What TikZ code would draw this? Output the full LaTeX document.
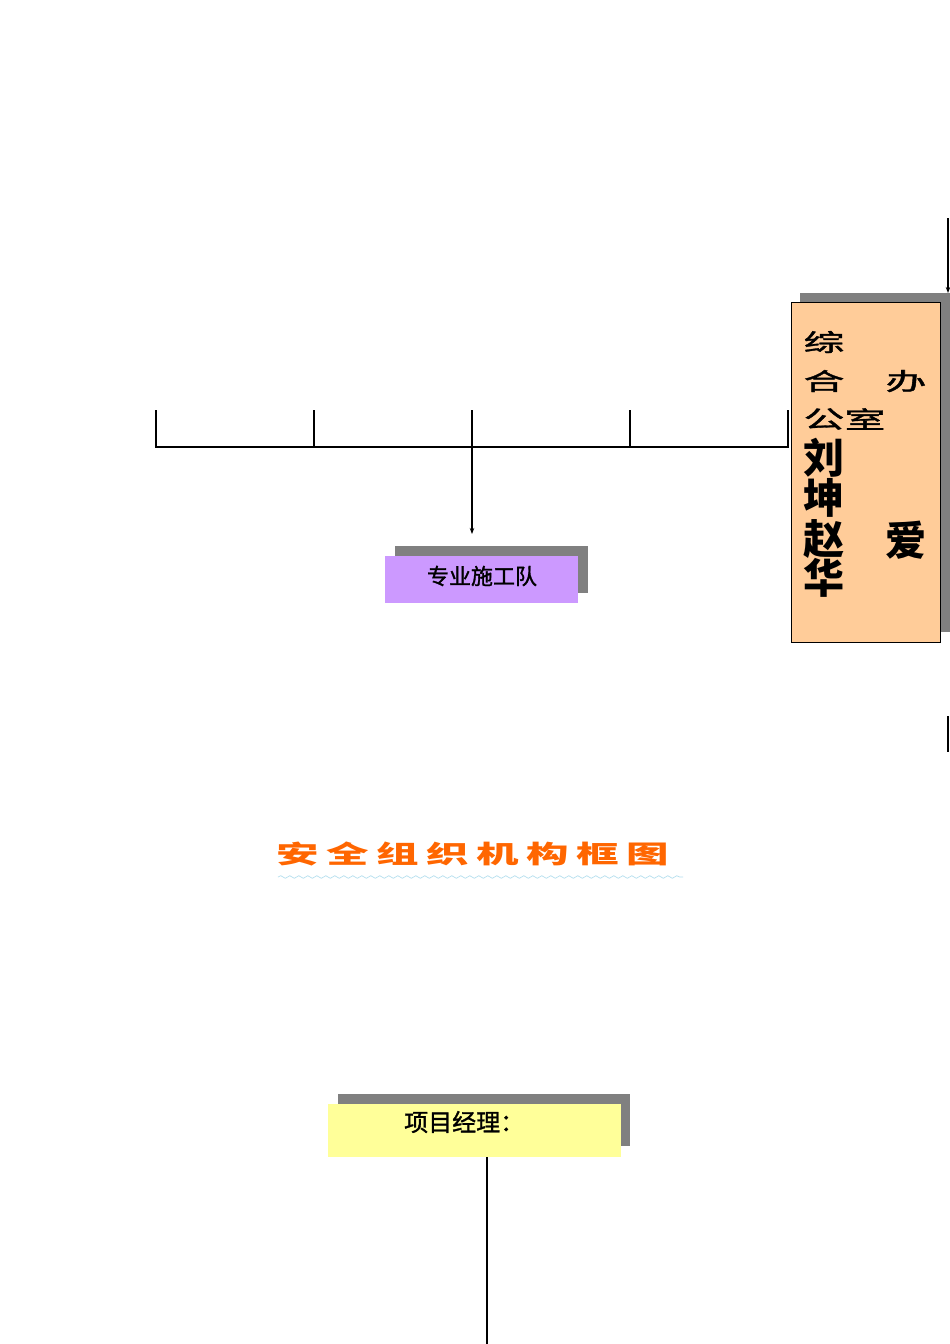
\documentclass[tikz,border=0pt]{standalone}
\usepackage{fontspec}
\setmainfont{Noto Sans CJK SC}
\newfontfamily\cjkmed[FakeBold=1.3]{Noto Sans CJK SC}
\usetikzlibrary{decorations.pathmorphing,arrows.meta}
\definecolor{shadowgray}{HTML}{808080}
\definecolor{orangefill}{HTML}{FFCC99}
\definecolor{purplefill}{HTML}{CC99FF}
\definecolor{yellowfill}{HTML}{FFFF99}
\definecolor{titleorange}{HTML}{FF6600}
\definecolor{wavyblue}{HTML}{B5DFEE}
\begin{document}
\begin{tikzpicture}[x=1pt,y=-1pt,
  rect/.style={draw=none,inner sep=0pt,outer sep=0pt,anchor=north west},
  shadowbox/.style={rect,fill=shadowgray},
  link/.style={line width=1.8pt,black},
  arrowlink/.style={link,-{Stealth[length=6pt,width=4.5pt]}},
  smallchar/.style={inner sep=0pt,font=\cjkmed\fontsize{24}{24}\selectfont,xscale=1.7},
  bigchar/.style={inner sep=0pt,font=\fontsize{41}{41}\selectfont\bfseries},
  titlechar/.style={inner sep=0pt,font=\fontsize{25}{25}\selectfont\bfseries,xscale=1.7,text=titleorange},
  label/.style={inner sep=0pt,font=\cjkmed\fontsize{22}{22}\selectfont}
]
\useasboundingbox (0,0) rectangle (950,1344);
\fill[white] (0,0) rectangle (950,1344);

% orange box (综合办公室)
\node[shadowbox,minimum width=150pt,minimum height=339pt] (oshadow) at (800,293) {};
\node[rect,fill=orangefill,draw=black,line width=0.8pt,minimum width=149pt,minimum height=340pt] (obox) at (791,302) {};
\node[smallchar] (c1) at (824,342) {综};
\node[smallchar] (c2) at (824,381) {合};
\node[smallchar] (c3) at (906,381) {办};
\node[smallchar] (c4) at (824,419) {公};
\node[smallchar] (c5) at (865,419) {室};
\node[bigchar] (n1) at (824,458) {刘};
\node[bigchar] (n2) at (824,498) {坤};
\node[bigchar] (n3) at (824,539) {赵};
\node[bigchar] (n4) at (824,578) {华};
\node[bigchar] (n5) at (906,540) {爱};

% top right incoming arrow
\coordinate (tr1) at (948,218);
\coordinate (tr2) at (948,293);
\draw[arrowlink] (tr1) -- (tr2);

% short line at right
\coordinate (sr1) at (948,716);
\coordinate (sr2) at (948,752);
\draw[link] (sr1) -- (sr2);

% bracket
\foreach \i/\x in {1/156,2/314,3/472,4/630,5/788}{
  \coordinate (t\i) at (\x,410);
  \coordinate (b\i) at (\x,447);
}
\draw[link] (t1) -- (b1) -- (b5) -- (t5);
\draw[link] (t2) -- (b2);
\draw[link] (t3) -- (b3);
\draw[link] (t4) -- (b4);
\coordinate (aend) at (472,534);
\draw[arrowlink,line width=1.4pt] (b3) -- (aend);

% purple box
\node[shadowbox,minimum width=193pt,minimum height=47pt] (pshadow) at (395,546) {};
\node[rect,fill=purplefill,minimum width=193pt,minimum height=47pt] (pbox) at (385,556) {};
\node[label] (ptext) at (482,576) {专业施工队};

% title
\foreach \i/\c in {0/安,1/全,2/组,3/织,4/机,5/构,6/框,7/图}{
  \node[titlechar] (tc\i) at (298+50*\i,854) {\c};
}
\coordinate (w1) at (278,877);
\coordinate (w2) at (683,877);
\draw[wavyblue,line width=0.7pt,decorate,decoration={snake,amplitude=1.3pt,segment length=9pt}] (w1) -- (w2);

% yellow box
\node[shadowbox,minimum width=292pt,minimum height=52pt] (yshadow) at (338,1094) {};
\node[rect,fill=yellowfill,minimum width=293pt,minimum height=53pt] (ybox) at (328,1104) {};
\node[label,anchor=west,font=\cjkmed\fontsize{24}{24}\selectfont] (ytext) at (404,1122) {项目经理：};
\coordinate (ytop) at (487,1157);
\coordinate (yend) at (487,1344);
\draw[link] (ytop) -- (yend);
\end{tikzpicture}
\end{document}
